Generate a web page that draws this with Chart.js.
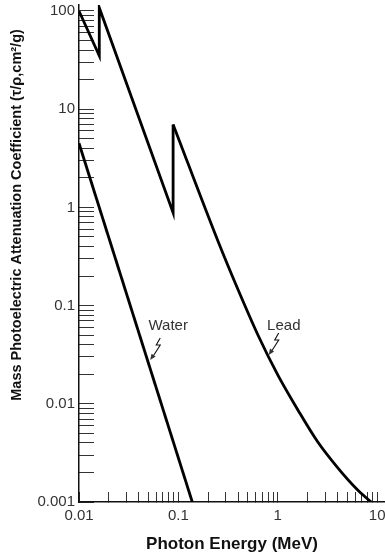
<!DOCTYPE html>
<html>
<head>
<meta charset="utf-8">
<script src="https://cdn.jsdelivr.net/npm/chart.js@4.4.1/dist/chart.umd.min.js"></script>
<style>
    html, body { margin: 0; padding: 0; background: #fff; }
    canvas { display: block; }
</style>
</head>
<body>
<canvas id="myChart" width="385" height="560"></canvas>
<script>
'use strict';

// photon energy (MeV) vs mass photoelectric coefficient (cm2/g)
var waterEnergy = [0.01, 0.138];
var waterTau = [4.5, 0.001];

// lead: L edge, K edge, then the smooth tail
var leadEnergy = [0.01, 0.016, 0.016, 0.0885, 0.0885, 0.25, 0.4, 0.63, 1.0, 1.6, 2.5, 4.0, 6.3, 8.7];
var leadTau = [100, 35, 108, 0.88, 7.0, 0.455, 0.144, 0.0505, 0.0197, 0.0086, 0.00415, 0.00224, 0.00134, 0.001];
var leadTailStart = 4;

var xTickValues = [0.01, 0.1, 1, 10];
var xTickLabels = ['0.01', '0.1', '1', '10'];
var yTickValues = [0.001, 0.01, 0.1, 1, 10, 100];
var yTickLabels = ['0.001', '0.01', '0.1', '1', '10', '100'];

// callout labels: where the text sits and where the arrow points
var noteLabels = ['Water', 'Lead'];
var noteTextEnergy = [0.079, 1.15];
var noteTextTau = [0.062, 0.062];
var noteTipEnergy = [0.0521, 0.811];
var noteTipTau = [0.0279, 0.0314];

var FONT = '"Liberation Sans", Arial, sans-serif';

function toPoints(xs, ys) {
    return xs.map(function (v, i) { return {x: v, y: ys[i]}; });
}

// decade ticks plus the 2..9 minor ticks between them
function logTicks(majors, max) {
    var out = [];
    majors.forEach(function (d) {
        for (var m = 1; m <= 9; m++) {
            var v = +(d * m).toPrecision(3);
            if (v <= max) out.push({value: v});
        }
    });
    return out;
}

function labelFor(values, labels) {
    return function (v) {
        var i = values.indexOf(v);
        return i < 0 ? '' : labels[i];
    };
}

var notesPlugin = {
    id: 'notes',
    afterDatasetsDraw: function (chart) {
        var ctx = chart.ctx;
        var sx = chart.scales.x;
        var sy = chart.scales.y;
        ctx.save();
        ctx.font = '15px ' + FONT;
        ctx.fillStyle = '#333';
        ctx.strokeStyle = '#111';
        ctx.lineWidth = 1.1;
        ctx.textAlign = 'center';
        ctx.textBaseline = 'middle';
        noteLabels.forEach(function (label, i) {
            ctx.fillText(label, sx.getPixelForValue(noteTextEnergy[i]), sy.getPixelForValue(noteTextTau[i]));
            var tx = sx.getPixelForValue(noteTipEnergy[i]);
            var ty = sy.getPixelForValue(noteTipTau[i]);
            ctx.beginPath();
            ctx.moveTo(tx + 10, ty - 22);
            ctx.lineTo(tx + 6, ty - 15);
            ctx.lineTo(tx + 10, ty - 15);
            ctx.lineTo(tx + 3, ty - 4);
            ctx.stroke();
            ctx.beginPath();
            ctx.moveTo(tx, ty);
            ctx.lineTo(tx + 5.4, ty - 3.6);
            ctx.lineTo(tx + 1.3, ty - 6.4);
            ctx.closePath();
            ctx.fill();
        });
        ctx.restore();
    }
};

var lineStyle = {
    showLine: true,
    borderColor: '#000',
    borderWidth: 2.8,
    pointRadius: 0
};

const ctx = document.getElementById('myChart');

new Chart(ctx, {
    type: 'scatter',
    data: {
        datasets: [
            Object.assign({
                label: 'Lead',
                data: toPoints(leadEnergy.slice(0, leadTailStart + 1), leadTau.slice(0, leadTailStart + 1)),
                tension: 0
            }, lineStyle),
            Object.assign({
                label: 'Lead tail',
                data: toPoints(leadEnergy.slice(leadTailStart), leadTau.slice(leadTailStart)),
                cubicInterpolationMode: 'monotone'
            }, lineStyle),
            Object.assign({
                label: 'Water',
                data: toPoints(waterEnergy, waterTau),
                tension: 0
            }, lineStyle)
        ]
    },
    options: {
        responsive: false,
        animation: false,
        layout: {padding: {top: 5, right: 0, left: 0, bottom: 0}},
        plugins: {
            legend: {display: false},
            tooltip: {enabled: false}
        },
        scales: {
            x: {
                type: 'logarithmic',
                min: 0.01,
                max: 12,
                afterBuildTicks: function (scale) {
                    scale.ticks = logTicks(xTickValues, 12);
                },
                afterFit: function (scale) {
                    scale.height = 58;
                    scale.paddingLeft = 0;
                    scale.paddingRight = 0;
                },
                grid: {drawOnChartArea: false, drawTicks: true, tickLength: -10, tickWidth: 1, tickColor: '#333'},
                border: {display: true, color: '#111', width: 1.5},
                ticks: {
                    autoSkip: false,
                    maxRotation: 0,
                    padding: 15,
                    color: '#333',
                    font: {family: FONT, size: 15},
                    callback: labelFor(xTickValues, xTickLabels)
                },
                title: {
                    display: true,
                    text: 'Photon Energy (MeV)',
                    color: '#111',
                    font: {family: FONT, size: 17, weight: 'bold'},
                    padding: {top: 0, bottom: 5}
                }
            },
            y: {
                type: 'logarithmic',
                min: 0.001,
                max: 115,
                afterBuildTicks: function (scale) {
                    scale.ticks = logTicks(yTickValues, 115);
                },
                afterFit: function (scale) {
                    scale.width = 79;
                    scale.paddingTop = 0;
                    scale.paddingBottom = 0;
                },
                grid: {drawOnChartArea: false, drawTicks: true, tickLength: -15, tickWidth: 1, tickColor: '#333'},
                border: {display: true, color: '#111', width: 1.5},
                ticks: {
                    autoSkip: false,
                    padding: 19,
                    color: '#333',
                    font: {family: FONT, size: 15},
                    callback: labelFor(yTickValues, yTickLabels)
                },
                title: {
                    display: true,
                    text: 'Mass Photoelectric Attenuation Coefficient (τ/ρ,cm²/g)      ',
                    align: 'end',
                    color: '#111',
                    font: {family: FONT, size: 14.5, weight: 'bold'},
                    padding: {top: 8, bottom: 0}
                }
            }
        }
    },
    plugins: [notesPlugin]
});
</script>
</body>
</html>
